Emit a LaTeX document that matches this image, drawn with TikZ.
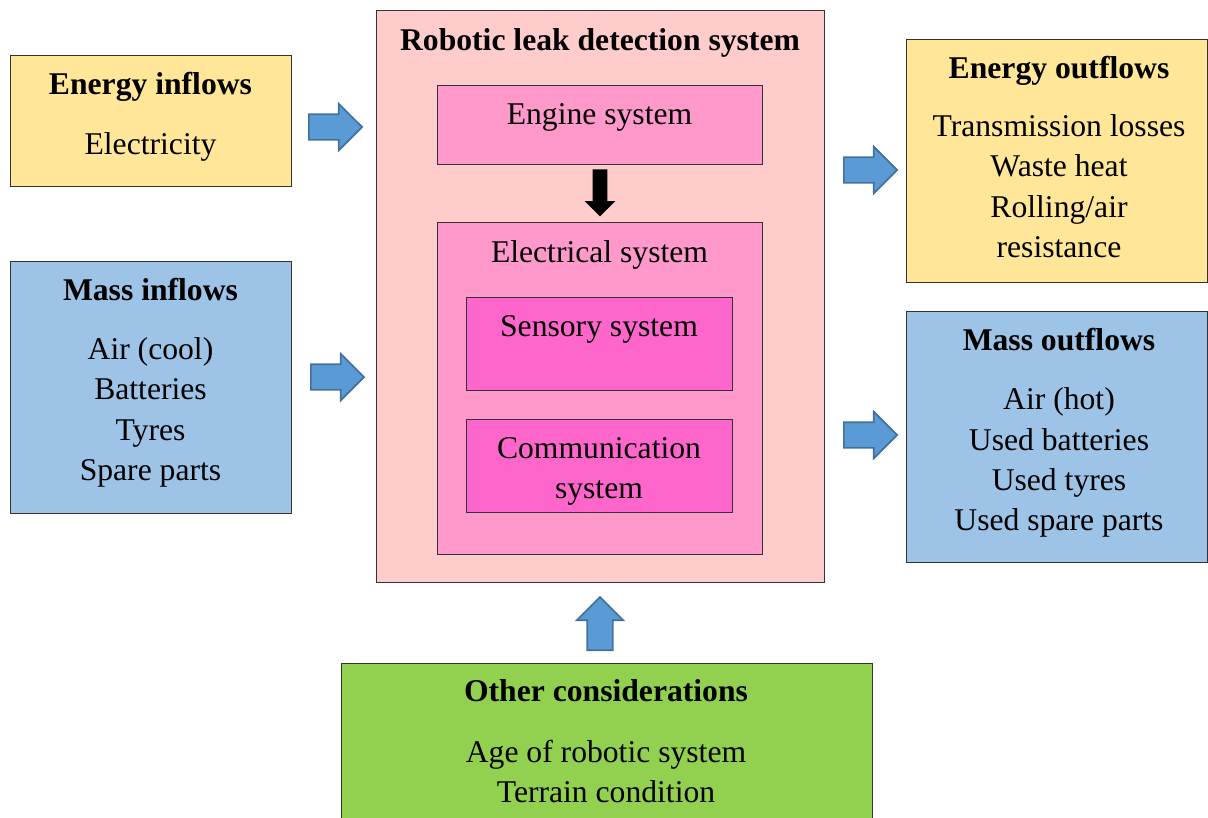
\documentclass[tikz,border=0pt]{standalone}
\usepackage{fontspec}
\setmainfont{Liberation Serif}
\usetikzlibrary{shapes.arrows, positioning, fit}
\usepackage{xcolor}
\definecolor{FlowYellow}{HTML}{FFE699}
\definecolor{FlowBlue}{HTML}{9DC3E6}
\definecolor{SysPink}{HTML}{FFCCCC}
\definecolor{SubPink}{HTML}{FF99CC}
\definecolor{PartPink}{HTML}{FF66CC}
\definecolor{OtherGreen}{HTML}{92D050}
\definecolor{ArrowBlue}{HTML}{5B9BD5}
\definecolor{ArrowEdge}{HTML}{41719C}
\tikzset{
    % Box styles - sharp corners, thin black border
    box/.style={
        rectangle,
        draw=black!80,
        line width=0.7pt,
        inner sep=0pt
    },
    energybox/.style={box, fill=FlowYellow},
    massbox/.style={box, fill=FlowBlue},
    systembox/.style={box, fill=SysPink},
    subbox/.style={box, fill=SubPink},
    partbox/.style={box, fill=PartPink},
    otherbox/.style={box, fill=OtherGreen},
    % Text styles (multi-line nodes sit on their last baseline)
    txt/.style={
        font=\fontsize{22.5pt}{28.45pt}\selectfont,
        align=center,
        anchor=base,
        inner sep=0pt
    },
    head/.style={
        txt,
        font=\fontsize{22.5pt}{28.45pt}\selectfont\bfseries
    },
    % Block arrows, placed by their tail
    flowarrow/.style={
        single arrow,
        draw=ArrowEdge,
        fill=ArrowBlue,
        line width=1.2pt,
        inner sep=0.3cm,
        minimum height=1.33cm,
        single arrow head extend=0.26cm,
        anchor=tail
    },
    downarrow/.style={
        single arrow,
        fill=black,
        inner sep=0.175cm,
        minimum height=1.175cm,
        single arrow head extend=0.2cm,
        shape border rotate=270,
        anchor=tail
    }
}

\begin{document}
\begin{tikzpicture}[x=0.025cm, y=-0.025cm]
    \useasboundingbox (0,0) rectangle (1208,817);

    % Inflows
    \node[energybox, fit={(10,55) (291,186)}] (ein) {};
    \node[head] (einT) at (150.5,94) {Energy inflows};
    \node[txt] (einL) at (150.5,154) {Electricity};

    \node[massbox, fit={(10,261) (291,513)}] (min) {};
    \node[head] (minT) at (150.5,300) {Mass inflows};
    \node[txt] (minL) at (150.5,480) {Air (cool)\\Batteries\\Tyres\\Spare parts};

    % Robotic system
    \node[systembox, fit={(376,10) (824,582)}] (rob) {};
    \node[head] (robT) at (600,50) {Robotic leak detection system};

    \node[subbox, fit={(437,85) (762,164)}] (eng) {};
    \node[txt] (engT) at (599.5,124) {Engine system};

    \node[subbox, fit={(437,222) (762,554)}] (elec) {};
    \node[txt] (elecT) at (599.5,262) {Electrical system};

    \node[partbox, fit={(466,297) (732,390)}] (sens) {};
    \node[txt] (sensT) at (599,336) {Sensory system};

    \node[partbox, fit={(466,419) (732,512)}] (comm) {};
    \node[txt] (commT) at (599,498) {Communication\\system};

    \node[downarrow] (engdown) at (600,169) {};

    % Outflows
    \node[energybox, fit={(906,39) (1207,282)}] (eout) {};
    \node[head] (eoutT) at (1059,78) {Energy outflows};
    \node[txt] (eoutL) at (1059,257) {Transmission losses\\Waste heat\\Rolling/air\\resistance};

    \node[massbox, fit={(906,311) (1207,562)}] (mout) {};
    \node[head] (moutT) at (1059,350) {Mass outflows};
    \node[txt] (moutL) at (1059,530) {Air (hot)\\Used batteries\\Used tyres\\Used spare parts};

    % Other considerations
    \node[otherbox, fit={(341,663) (872,830)}] (oth) {};
    \node[head] (othT) at (606,701) {Other considerations};
    \node[txt] (othL) at (606,802) {Age of robotic system\\Terrain condition};

    % Flow arrows
    \node[flowarrow] (einA) at (308,127) {};
    \node[flowarrow] (minA) at (310,377) {};
    \node[flowarrow] (eoutA) at (843,170) {};
    \node[flowarrow] (moutA) at (843,435) {};
    \node[flowarrow, shape border rotate=90] (othA) at (600,651) {};
\end{tikzpicture}
\end{document}
